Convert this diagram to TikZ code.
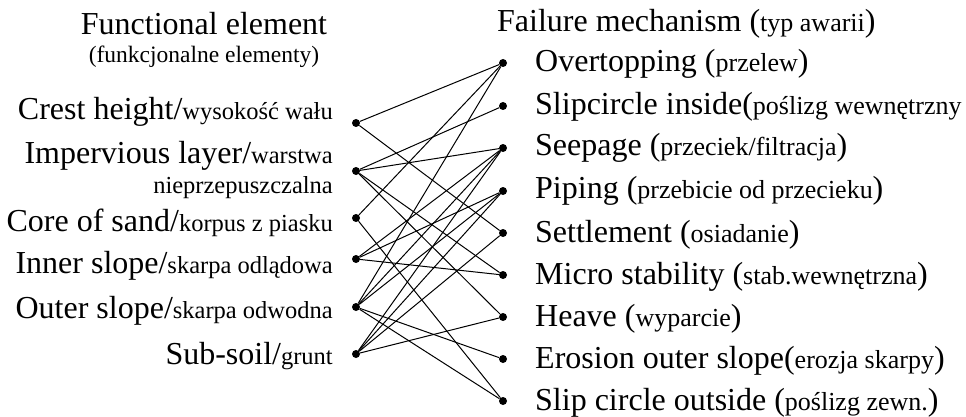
\documentclass[tikz,border=0pt]{standalone}
\usepackage{fontspec}
\setmainfont{Liberation Serif}
\newcommand\smtxt[1]{{\fontsize{24.5}{29}\selectfont #1}}
\newcommand\smtxtr[1]{{\fontsize{26}{31}\selectfont #1}}
\begin{document}
\begin{tikzpicture}[x=1pt,y=-1pt,
  font=\fontsize{32}{38}\selectfont,
  lbl/.style={inner sep=0pt, anchor=base east},
  rlbl/.style={inner sep=0pt, anchor=base west},
  ctr/.style={inner sep=0pt, anchor=base},
  dotpt/.style={circle, fill=black, inner sep=0pt, minimum size=8pt},
  link/.style={line width=1pt}]
\useasboundingbox (0,0) rectangle (966,417);
% titles
\node[ctr] (h1) at (204,35) {Functional element};
\node[ctr] (h2) at (204,63) {\fontsize{23.5}{28}\selectfont(funkcjonalne elementy)};
\node[rlbl] (h3) at (497,32) {Failure mechanism (\smtxtr{typ awarii})};
% left labels
\node[lbl] (tc) at (333,120) {Crest height/\smtxt{wysokość wału}};
\node[lbl] (ti) at (333,163) {Impervious layer/\smtxt{warstwa}};
\node[lbl] (ti2) at (333,193) {\smtxt{nieprzepuszczalna}};
\node[lbl] (tk) at (333,231) {Core of sand/\smtxt{korpus z piasku}};
\node[lbl] (tn) at (333,273) {Inner slope/\smtxt{skarpa odlądowa}};
\node[lbl] (to) at (333,318) {Outer slope/\smtxt{skarpa odwodna}};
\node[lbl] (ts) at (333,364) {Sub-soil/\smtxt{grunt}};
% right labels
\node[rlbl] (t1) at (535,72) {Overtopping (\smtxtr{przelew})};
\node[rlbl] (t2) at (535,114) {Slipcircle inside(\smtxtr{poślizg wewnętrzny}};
\node[rlbl] (t3) at (535,156) {Seepage (\smtxtr{przeciek/filtracja})};
\node[rlbl] (t4) at (535,198) {Piping (\smtxtr{przebicie od przecieku})};
\node[rlbl] (t5) at (535,242) {Settlement (\smtxtr{osiadanie})};
\node[rlbl] (t6) at (535,284) {Micro stability (\smtxtr{stab.wewnętrzna})};
\node[rlbl] (t7) at (535,326) {Heave (\smtxtr{wyparcie})};
\node[rlbl] (t8) at (535,368) {Erosion outer slope(\smtxtr{erozja skarpy})};
\node[rlbl] (t9) at (535,410) {Slip circle outside (\smtxtr{poślizg zewn.})};
% left dots
\node[dotpt] (lc) at (356,123) {};
\node[dotpt] (li) at (356,171) {};
\node[dotpt] (lk) at (356,218) {};
\node[dotpt] (ln) at (356,259) {};
\node[dotpt] (lo) at (356,307) {};
\node[dotpt] (ls) at (356,354) {};
% right dots
\node[dotpt] (r1) at (503,63) {};
\node[dotpt] (r2) at (503,106) {};
\node[dotpt] (r3) at (503,148) {};
\node[dotpt] (r4) at (503,191) {};
\node[dotpt] (r5) at (503,233) {};
\node[dotpt] (r6) at (503,275) {};
\node[dotpt] (r7) at (503,317) {};
\node[dotpt] (r8) at (503,359) {};
\node[dotpt] (r9) at (503,401) {};
% links
\draw[link] (lc) -- (r1);
\draw[link] (lc) -- (r5);
\draw[link] (li) -- (r2);
\draw[link] (li) -- (r3);
\draw[link] (li) -- (r6);
\draw[link] (li) -- (r7);
\draw[link] (lk) -- (r1);
\draw[link] (lk) -- (r9);
\draw[link] (ln) -- (r3);
\draw[link] (ln) -- (r4);
\draw[link] (ln) -- (r6);
\draw[link] (lo) -- (r1);
\draw[link] (lo) -- (r3);
\draw[link] (lo) -- (r4);
\draw[link] (lo) -- (r8);
\draw[link] (lo) -- (r9);
\draw[link] (ls) -- (r3);
\draw[link] (ls) -- (r4);
\draw[link] (ls) -- (r5);
\draw[link] (ls) -- (r7);
\end{tikzpicture}
\end{document}
